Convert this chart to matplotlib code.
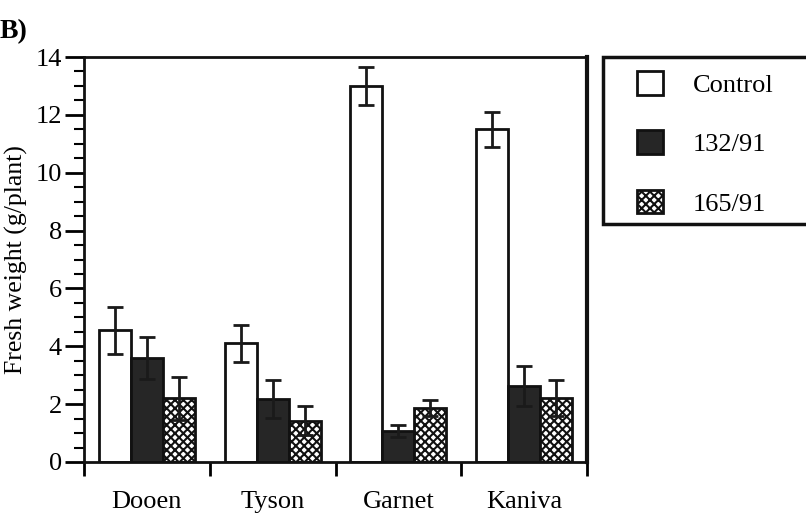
import numpy as np
import matplotlib
matplotlib.use('Agg')
from matplotlib import pyplot as plt
from matplotlib.patches import Rectangle
from matplotlib.ticker import MultipleLocator, FixedLocator

cultivars = ['Dooen', 'Tyson', 'Garnet', 'Kaniva']
series = ['Control', '132/91', '165/91']
control = [4.55, 4.1, 13.0, 11.5]
control_err = [0.8, 0.65, 0.65, 0.6]
iso132 = [3.6, 2.18, 1.07, 2.63]
iso132_err = [0.72, 0.65, 0.22, 0.7]
iso165 = [2.2, 1.42, 1.87, 2.22]
iso165_err = [0.75, 0.5, 0.27, 0.63]

plt.rcParams['font.family'] = ['Liberation Serif', 'DejaVu Serif']
plt.rcParams['hatch.linewidth'] = 1.5

fig = plt.figure(figsize=(8.06, 5.18), dpi=100)
ax = fig.add_axes([84 / 806, 1 - 462 / 518, 503 / 806, 405 / 518])

x = np.arange(len(cultivars))
w = 0.254
ekw = dict(ecolor='#1a1a1a', elinewidth=2.0, capsize=5.5, capthick=2.0)
b1 = ax.bar(x - w, control, w, yerr=control_err, color='white',
            edgecolor='#111111', linewidth=2.0, error_kw=ekw, label=series[0])
b2 = ax.bar(x, iso132, w, yerr=iso132_err, color='#262626',
            edgecolor='#111111', linewidth=2.0, error_kw=ekw, label=series[1])
b3 = ax.bar(x + w, iso165, w, yerr=iso165_err, color='white', hatch='xxxx',
            edgecolor='#111111', linewidth=2.0, error_kw=ekw, label=series[2])

ax.set_xlim(-0.5, 3.5)
ax.set_ylim(0, 14)
ax.yaxis.set_major_locator(MultipleLocator(2))
ax.yaxis.set_minor_locator(MultipleLocator(0.5))
ax.set_xticks(x)
ax.set_xticklabels(cultivars)
ax.xaxis.set_minor_locator(FixedLocator(np.arange(-0.5, 4.0, 1.0)))
ax.tick_params(axis='x', which='major', length=0, pad=21, labelsize=19)
ax.tick_params(axis='x', which='minor', length=10, width=2, direction='out')
ax.tick_params(axis='y', which='major', length=14, width=2, pad=2, labelsize=19)
ax.tick_params(axis='y', which='minor', length=7, width=1.5)
for s in ax.spines.values():
    s.set_linewidth(2)
    s.set_color('#111111')
ax.spines['right'].set_linewidth(3)

ax.set_ylabel('Fresh weight (g/plant)', fontsize=18.5, labelpad=5)

fig.text(0.0, 1 - 38 / 518, 'B)', fontsize=20, fontweight='bold', ha='left', va='baseline')

# legend
fig.patches.append(Rectangle((603 / 806, 1 - 224 / 518), 0.4, 167 / 518,
                             transform=fig.transFigure, facecolor='white',
                             edgecolor='#111111', linewidth=2.5, clip_on=False))
fig.legend([b1, b2, b3], series, loc='upper left',
           bbox_to_anchor=(637 / 806, 1 - 71 / 518), frameon=False,
           borderaxespad=0, borderpad=0, fontsize=19,
           handlelength=1.0, handleheight=1.0, handletextpad=1.1,
           labelspacing=1.27)

fig.savefig('out.png', dpi=100)
